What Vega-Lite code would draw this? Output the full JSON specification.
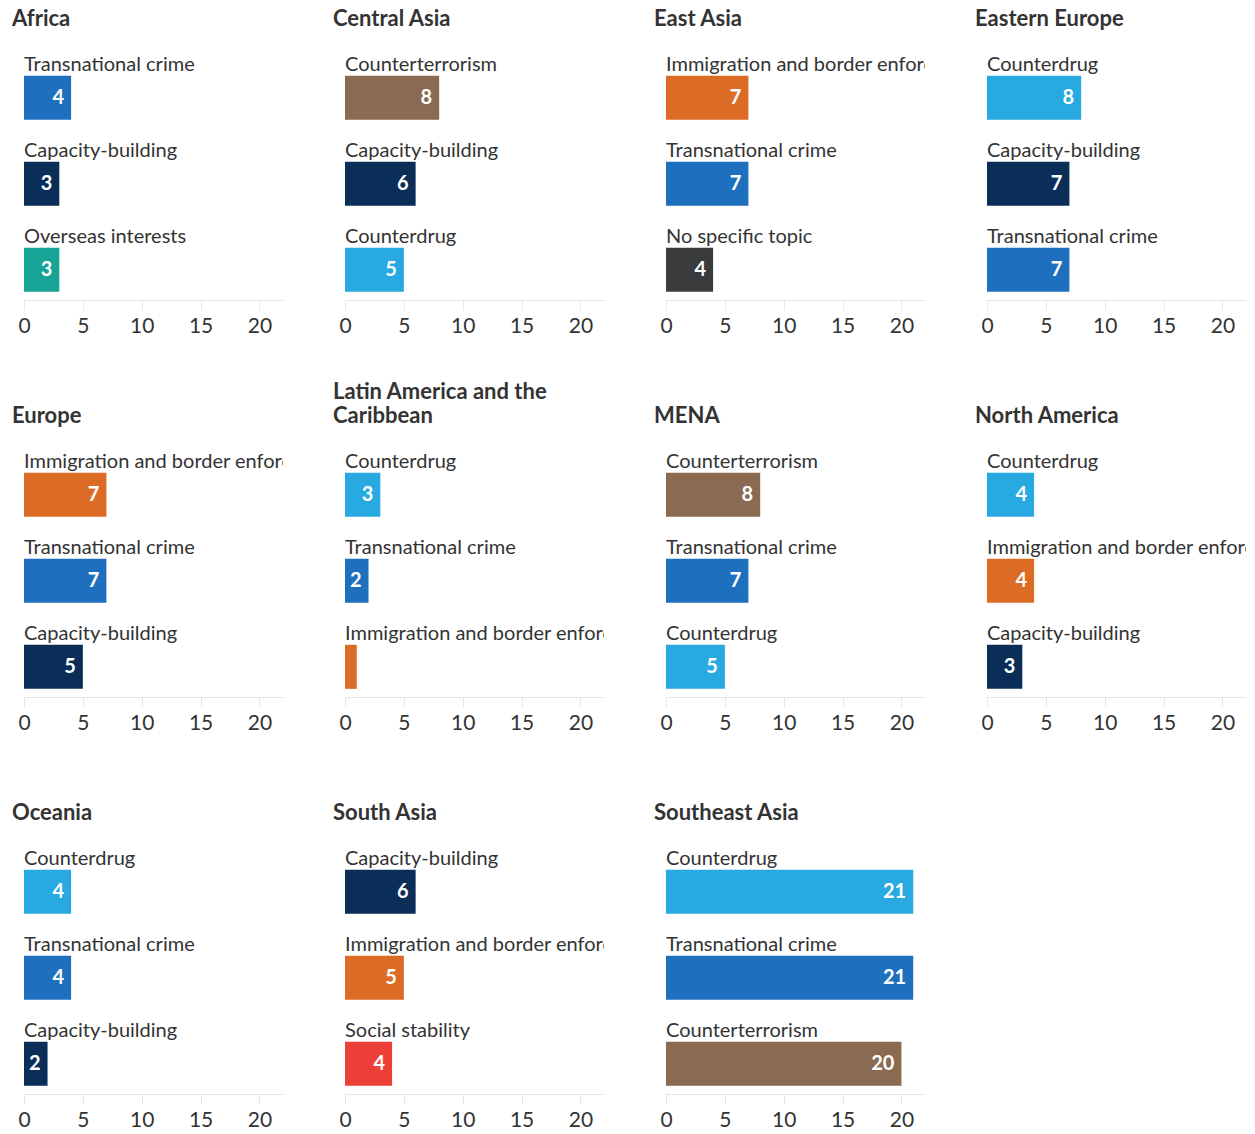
{
  "$schema": "https://vega.github.io/schema/vega-lite/v6.json",
  "padding": {"left": 12, "top": 8, "right": 5, "bottom": 5},
  "background": "white",
  "data": {"values": [
    {"region": "Africa", "topic": "Transnational crime", "value": 4},
    {"region": "Africa", "topic": "Capacity-building", "value": 3},
    {"region": "Africa", "topic": "Overseas interests", "value": 3},
    {"region": "Central Asia", "topic": "Counterterrorism", "value": 8},
    {"region": "Central Asia", "topic": "Capacity-building", "value": 6},
    {"region": "Central Asia", "topic": "Counterdrug", "value": 5},
    {"region": "East Asia", "topic": "Immigration and border enforcement", "value": 7},
    {"region": "East Asia", "topic": "Transnational crime", "value": 7},
    {"region": "East Asia", "topic": "No specific topic", "value": 4},
    {"region": "Eastern Europe", "topic": "Counterdrug", "value": 8},
    {"region": "Eastern Europe", "topic": "Capacity-building", "value": 7},
    {"region": "Eastern Europe", "topic": "Transnational crime", "value": 7},
    {"region": "Europe", "topic": "Immigration and border enforcement", "value": 7},
    {"region": "Europe", "topic": "Transnational crime", "value": 7},
    {"region": "Europe", "topic": "Capacity-building", "value": 5},
    {"region": "Latin America and the Caribbean", "topic": "Counterdrug", "value": 3},
    {"region": "Latin America and the Caribbean", "topic": "Transnational crime", "value": 2},
    {"region": "Latin America and the Caribbean", "topic": "Immigration and border enforcement", "value": 1},
    {"region": "MENA", "topic": "Counterterrorism", "value": 8},
    {"region": "MENA", "topic": "Transnational crime", "value": 7},
    {"region": "MENA", "topic": "Counterdrug", "value": 5},
    {"region": "North America", "topic": "Counterdrug", "value": 4},
    {"region": "North America", "topic": "Immigration and border enforcement", "value": 4},
    {"region": "North America", "topic": "Capacity-building", "value": 3},
    {"region": "Oceania", "topic": "Counterdrug", "value": 4},
    {"region": "Oceania", "topic": "Transnational crime", "value": 4},
    {"region": "Oceania", "topic": "Capacity-building", "value": 2},
    {"region": "South Asia", "topic": "Capacity-building", "value": 6},
    {"region": "South Asia", "topic": "Immigration and border enforcement", "value": 5},
    {"region": "South Asia", "topic": "Social stability", "value": 4},
    {"region": "Southeast Asia", "topic": "Counterdrug", "value": 21},
    {"region": "Southeast Asia", "topic": "Transnational crime", "value": 21},
    {"region": "Southeast Asia", "topic": "Counterterrorism", "value": 20}
  ]},
  "columns": 4,
  "bounds": "flush",
  "spacing": {"row": 138, "column": 62},
  "resolve": {"scale": {"y": "independent"}},
  "concat": [
    {"title": "Africa", "width": 259, "height": 259,
     "transform": [{"filter": "datum.region === 'Africa'"}],
     "encoding": {
       "y": {"field": "topic", "type": "nominal", "sort": null, "axis": null, "scale": {"paddingInner": 0.488, "paddingOuter": 0.25, "align": 0.81}},
       "x": {"field": "value", "type": "quantitative", "scale": {"domain": [0, 22], "nice": false}, "axis": {"values": [0, 5, 10, 15, 20], "title": null}}},
     "layer": [
       {"mark": {"type": "bar"}, "encoding": {"color": {"field": "topic", "type": "nominal", "legend": null, "scale": {"domain": ["Transnational crime", "Capacity-building", "Overseas interests", "Counterterrorism", "Counterdrug", "Immigration and border enforcement", "No specific topic", "Social stability"], "range": ["#1f6fbf", "#0b2e59", "#17a497", "#8a6a50", "#28a9e1", "#dc6b25", "#3a3b3d", "#ec3f37"]}}}},
       {"mark": {"type": "text", "align": "left", "baseline": "alphabetic", "dy": -27, "clip": true, "fontSize": 20, "color": "#333333"}, "encoding": {"x": {"datum": 0}, "text": {"field": "topic"}}},
       {"mark": {"type": "text", "align": "right", "baseline": "middle", "dx": -7, "fontSize": 20, "fontWeight": "bold", "color": "white"}, "encoding": {"text": {"condition": {"test": "datum.value > 1", "field": "value"}, "value": ""}}}
     ]},
    {"title": "Central Asia", "width": 259, "height": 259,
     "transform": [{"filter": "datum.region === 'Central Asia'"}],
     "encoding": {
       "y": {"field": "topic", "type": "nominal", "sort": null, "axis": null, "scale": {"paddingInner": 0.488, "paddingOuter": 0.25, "align": 0.81}},
       "x": {"field": "value", "type": "quantitative", "scale": {"domain": [0, 22], "nice": false}, "axis": {"values": [0, 5, 10, 15, 20], "title": null}}},
     "layer": [
       {"mark": {"type": "bar"}, "encoding": {"color": {"field": "topic", "type": "nominal", "legend": null, "scale": {"domain": ["Transnational crime", "Capacity-building", "Overseas interests", "Counterterrorism", "Counterdrug", "Immigration and border enforcement", "No specific topic", "Social stability"], "range": ["#1f6fbf", "#0b2e59", "#17a497", "#8a6a50", "#28a9e1", "#dc6b25", "#3a3b3d", "#ec3f37"]}}}},
       {"mark": {"type": "text", "align": "left", "baseline": "alphabetic", "dy": -27, "clip": true, "fontSize": 20, "color": "#333333"}, "encoding": {"x": {"datum": 0}, "text": {"field": "topic"}}},
       {"mark": {"type": "text", "align": "right", "baseline": "middle", "dx": -7, "fontSize": 20, "fontWeight": "bold", "color": "white"}, "encoding": {"text": {"condition": {"test": "datum.value > 1", "field": "value"}, "value": ""}}}
     ]},
    {"title": "East Asia", "width": 259, "height": 259,
     "transform": [{"filter": "datum.region === 'East Asia'"}],
     "encoding": {
       "y": {"field": "topic", "type": "nominal", "sort": null, "axis": null, "scale": {"paddingInner": 0.488, "paddingOuter": 0.25, "align": 0.81}},
       "x": {"field": "value", "type": "quantitative", "scale": {"domain": [0, 22], "nice": false}, "axis": {"values": [0, 5, 10, 15, 20], "title": null}}},
     "layer": [
       {"mark": {"type": "bar"}, "encoding": {"color": {"field": "topic", "type": "nominal", "legend": null, "scale": {"domain": ["Transnational crime", "Capacity-building", "Overseas interests", "Counterterrorism", "Counterdrug", "Immigration and border enforcement", "No specific topic", "Social stability"], "range": ["#1f6fbf", "#0b2e59", "#17a497", "#8a6a50", "#28a9e1", "#dc6b25", "#3a3b3d", "#ec3f37"]}}}},
       {"mark": {"type": "text", "align": "left", "baseline": "alphabetic", "dy": -27, "clip": true, "fontSize": 20, "color": "#333333"}, "encoding": {"x": {"datum": 0}, "text": {"field": "topic"}}},
       {"mark": {"type": "text", "align": "right", "baseline": "middle", "dx": -7, "fontSize": 20, "fontWeight": "bold", "color": "white"}, "encoding": {"text": {"condition": {"test": "datum.value > 1", "field": "value"}, "value": ""}}}
     ]},
    {"title": "Eastern Europe", "width": 259, "height": 259,
     "transform": [{"filter": "datum.region === 'Eastern Europe'"}],
     "encoding": {
       "y": {"field": "topic", "type": "nominal", "sort": null, "axis": null, "scale": {"paddingInner": 0.488, "paddingOuter": 0.25, "align": 0.81}},
       "x": {"field": "value", "type": "quantitative", "scale": {"domain": [0, 22], "nice": false}, "axis": {"values": [0, 5, 10, 15, 20], "title": null}}},
     "layer": [
       {"mark": {"type": "bar"}, "encoding": {"color": {"field": "topic", "type": "nominal", "legend": null, "scale": {"domain": ["Transnational crime", "Capacity-building", "Overseas interests", "Counterterrorism", "Counterdrug", "Immigration and border enforcement", "No specific topic", "Social stability"], "range": ["#1f6fbf", "#0b2e59", "#17a497", "#8a6a50", "#28a9e1", "#dc6b25", "#3a3b3d", "#ec3f37"]}}}},
       {"mark": {"type": "text", "align": "left", "baseline": "alphabetic", "dy": -27, "clip": true, "fontSize": 20, "color": "#333333"}, "encoding": {"x": {"datum": 0}, "text": {"field": "topic"}}},
       {"mark": {"type": "text", "align": "right", "baseline": "middle", "dx": -7, "fontSize": 20, "fontWeight": "bold", "color": "white"}, "encoding": {"text": {"condition": {"test": "datum.value > 1", "field": "value"}, "value": ""}}}
     ]},
    {"title": "Europe", "width": 259, "height": 259,
     "transform": [{"filter": "datum.region === 'Europe'"}],
     "encoding": {
       "y": {"field": "topic", "type": "nominal", "sort": null, "axis": null, "scale": {"paddingInner": 0.488, "paddingOuter": 0.25, "align": 0.81}},
       "x": {"field": "value", "type": "quantitative", "scale": {"domain": [0, 22], "nice": false}, "axis": {"values": [0, 5, 10, 15, 20], "title": null}}},
     "layer": [
       {"mark": {"type": "bar"}, "encoding": {"color": {"field": "topic", "type": "nominal", "legend": null, "scale": {"domain": ["Transnational crime", "Capacity-building", "Overseas interests", "Counterterrorism", "Counterdrug", "Immigration and border enforcement", "No specific topic", "Social stability"], "range": ["#1f6fbf", "#0b2e59", "#17a497", "#8a6a50", "#28a9e1", "#dc6b25", "#3a3b3d", "#ec3f37"]}}}},
       {"mark": {"type": "text", "align": "left", "baseline": "alphabetic", "dy": -27, "clip": true, "fontSize": 20, "color": "#333333"}, "encoding": {"x": {"datum": 0}, "text": {"field": "topic"}}},
       {"mark": {"type": "text", "align": "right", "baseline": "middle", "dx": -7, "fontSize": 20, "fontWeight": "bold", "color": "white"}, "encoding": {"text": {"condition": {"test": "datum.value > 1", "field": "value"}, "value": ""}}}
     ]},
    {"title": {"text": ["Latin America and the", "Caribbean"]}, "width": 259, "height": 259,
     "transform": [{"filter": "datum.region === 'Latin America and the Caribbean'"}],
     "encoding": {
       "y": {"field": "topic", "type": "nominal", "sort": null, "axis": null, "scale": {"paddingInner": 0.488, "paddingOuter": 0.25, "align": 0.81}},
       "x": {"field": "value", "type": "quantitative", "scale": {"domain": [0, 22], "nice": false}, "axis": {"values": [0, 5, 10, 15, 20], "title": null}}},
     "layer": [
       {"mark": {"type": "bar"}, "encoding": {"color": {"field": "topic", "type": "nominal", "legend": null, "scale": {"domain": ["Transnational crime", "Capacity-building", "Overseas interests", "Counterterrorism", "Counterdrug", "Immigration and border enforcement", "No specific topic", "Social stability"], "range": ["#1f6fbf", "#0b2e59", "#17a497", "#8a6a50", "#28a9e1", "#dc6b25", "#3a3b3d", "#ec3f37"]}}}},
       {"mark": {"type": "text", "align": "left", "baseline": "alphabetic", "dy": -27, "clip": true, "fontSize": 20, "color": "#333333"}, "encoding": {"x": {"datum": 0}, "text": {"field": "topic"}}},
       {"mark": {"type": "text", "align": "right", "baseline": "middle", "dx": -7, "fontSize": 20, "fontWeight": "bold", "color": "white"}, "encoding": {"text": {"condition": {"test": "datum.value > 1", "field": "value"}, "value": ""}}}
     ]},
    {"title": "MENA", "width": 259, "height": 259,
     "transform": [{"filter": "datum.region === 'MENA'"}],
     "encoding": {
       "y": {"field": "topic", "type": "nominal", "sort": null, "axis": null, "scale": {"paddingInner": 0.488, "paddingOuter": 0.25, "align": 0.81}},
       "x": {"field": "value", "type": "quantitative", "scale": {"domain": [0, 22], "nice": false}, "axis": {"values": [0, 5, 10, 15, 20], "title": null}}},
     "layer": [
       {"mark": {"type": "bar"}, "encoding": {"color": {"field": "topic", "type": "nominal", "legend": null, "scale": {"domain": ["Transnational crime", "Capacity-building", "Overseas interests", "Counterterrorism", "Counterdrug", "Immigration and border enforcement", "No specific topic", "Social stability"], "range": ["#1f6fbf", "#0b2e59", "#17a497", "#8a6a50", "#28a9e1", "#dc6b25", "#3a3b3d", "#ec3f37"]}}}},
       {"mark": {"type": "text", "align": "left", "baseline": "alphabetic", "dy": -27, "clip": true, "fontSize": 20, "color": "#333333"}, "encoding": {"x": {"datum": 0}, "text": {"field": "topic"}}},
       {"mark": {"type": "text", "align": "right", "baseline": "middle", "dx": -7, "fontSize": 20, "fontWeight": "bold", "color": "white"}, "encoding": {"text": {"condition": {"test": "datum.value > 1", "field": "value"}, "value": ""}}}
     ]},
    {"title": "North America", "width": 259, "height": 259,
     "transform": [{"filter": "datum.region === 'North America'"}],
     "encoding": {
       "y": {"field": "topic", "type": "nominal", "sort": null, "axis": null, "scale": {"paddingInner": 0.488, "paddingOuter": 0.25, "align": 0.81}},
       "x": {"field": "value", "type": "quantitative", "scale": {"domain": [0, 22], "nice": false}, "axis": {"values": [0, 5, 10, 15, 20], "title": null}}},
     "layer": [
       {"mark": {"type": "bar"}, "encoding": {"color": {"field": "topic", "type": "nominal", "legend": null, "scale": {"domain": ["Transnational crime", "Capacity-building", "Overseas interests", "Counterterrorism", "Counterdrug", "Immigration and border enforcement", "No specific topic", "Social stability"], "range": ["#1f6fbf", "#0b2e59", "#17a497", "#8a6a50", "#28a9e1", "#dc6b25", "#3a3b3d", "#ec3f37"]}}}},
       {"mark": {"type": "text", "align": "left", "baseline": "alphabetic", "dy": -27, "clip": true, "fontSize": 20, "color": "#333333"}, "encoding": {"x": {"datum": 0}, "text": {"field": "topic"}}},
       {"mark": {"type": "text", "align": "right", "baseline": "middle", "dx": -7, "fontSize": 20, "fontWeight": "bold", "color": "white"}, "encoding": {"text": {"condition": {"test": "datum.value > 1", "field": "value"}, "value": ""}}}
     ]},
    {"title": "Oceania", "width": 259, "height": 259,
     "transform": [{"filter": "datum.region === 'Oceania'"}],
     "encoding": {
       "y": {"field": "topic", "type": "nominal", "sort": null, "axis": null, "scale": {"paddingInner": 0.488, "paddingOuter": 0.25, "align": 0.81}},
       "x": {"field": "value", "type": "quantitative", "scale": {"domain": [0, 22], "nice": false}, "axis": {"values": [0, 5, 10, 15, 20], "title": null}}},
     "layer": [
       {"mark": {"type": "bar"}, "encoding": {"color": {"field": "topic", "type": "nominal", "legend": null, "scale": {"domain": ["Transnational crime", "Capacity-building", "Overseas interests", "Counterterrorism", "Counterdrug", "Immigration and border enforcement", "No specific topic", "Social stability"], "range": ["#1f6fbf", "#0b2e59", "#17a497", "#8a6a50", "#28a9e1", "#dc6b25", "#3a3b3d", "#ec3f37"]}}}},
       {"mark": {"type": "text", "align": "left", "baseline": "alphabetic", "dy": -27, "clip": true, "fontSize": 20, "color": "#333333"}, "encoding": {"x": {"datum": 0}, "text": {"field": "topic"}}},
       {"mark": {"type": "text", "align": "right", "baseline": "middle", "dx": -7, "fontSize": 20, "fontWeight": "bold", "color": "white"}, "encoding": {"text": {"condition": {"test": "datum.value > 1", "field": "value"}, "value": ""}}}
     ]},
    {"title": "South Asia", "width": 259, "height": 259,
     "transform": [{"filter": "datum.region === 'South Asia'"}],
     "encoding": {
       "y": {"field": "topic", "type": "nominal", "sort": null, "axis": null, "scale": {"paddingInner": 0.488, "paddingOuter": 0.25, "align": 0.81}},
       "x": {"field": "value", "type": "quantitative", "scale": {"domain": [0, 22], "nice": false}, "axis": {"values": [0, 5, 10, 15, 20], "title": null}}},
     "layer": [
       {"mark": {"type": "bar"}, "encoding": {"color": {"field": "topic", "type": "nominal", "legend": null, "scale": {"domain": ["Transnational crime", "Capacity-building", "Overseas interests", "Counterterrorism", "Counterdrug", "Immigration and border enforcement", "No specific topic", "Social stability"], "range": ["#1f6fbf", "#0b2e59", "#17a497", "#8a6a50", "#28a9e1", "#dc6b25", "#3a3b3d", "#ec3f37"]}}}},
       {"mark": {"type": "text", "align": "left", "baseline": "alphabetic", "dy": -27, "clip": true, "fontSize": 20, "color": "#333333"}, "encoding": {"x": {"datum": 0}, "text": {"field": "topic"}}},
       {"mark": {"type": "text", "align": "right", "baseline": "middle", "dx": -7, "fontSize": 20, "fontWeight": "bold", "color": "white"}, "encoding": {"text": {"condition": {"test": "datum.value > 1", "field": "value"}, "value": ""}}}
     ]},
    {"title": "Southeast Asia", "width": 259, "height": 259,
     "transform": [{"filter": "datum.region === 'Southeast Asia'"}],
     "encoding": {
       "y": {"field": "topic", "type": "nominal", "sort": null, "axis": null, "scale": {"paddingInner": 0.488, "paddingOuter": 0.25, "align": 0.81}},
       "x": {"field": "value", "type": "quantitative", "scale": {"domain": [0, 22], "nice": false}, "axis": {"values": [0, 5, 10, 15, 20], "title": null}}},
     "layer": [
       {"mark": {"type": "bar"}, "encoding": {"color": {"field": "topic", "type": "nominal", "legend": null, "scale": {"domain": ["Transnational crime", "Capacity-building", "Overseas interests", "Counterterrorism", "Counterdrug", "Immigration and border enforcement", "No specific topic", "Social stability"], "range": ["#1f6fbf", "#0b2e59", "#17a497", "#8a6a50", "#28a9e1", "#dc6b25", "#3a3b3d", "#ec3f37"]}}}},
       {"mark": {"type": "text", "align": "left", "baseline": "alphabetic", "dy": -27, "clip": true, "fontSize": 20, "color": "#333333"}, "encoding": {"x": {"datum": 0}, "text": {"field": "topic"}}},
       {"mark": {"type": "text", "align": "right", "baseline": "middle", "dx": -7, "fontSize": 20, "fontWeight": "bold", "color": "white"}, "encoding": {"text": {"condition": {"test": "datum.value > 1", "field": "value"}, "value": ""}}}
     ]}
  ],
  "config": {
    "font": "Lato",
    "view": {"stroke": null},
    "title": {"anchor": "start", "frame": "group", "dx": -12, "fontSize": 22, "fontWeight": "bold", "color": "#333333", "offset": 10, "baseline": "bottom", "lineHeight": 24, "font": "Lato"},
    "axis": {"grid": false, "domainColor": "#e6e6e6", "tickColor": "#e6e6e6", "tickSize": 10, "labelFontSize": 21, "labelColor": "#333333", "labelPadding": 5, "labelFont": "Lato", "labelFlush": false},
    "text": {"font": "Lato"}
  }
}
